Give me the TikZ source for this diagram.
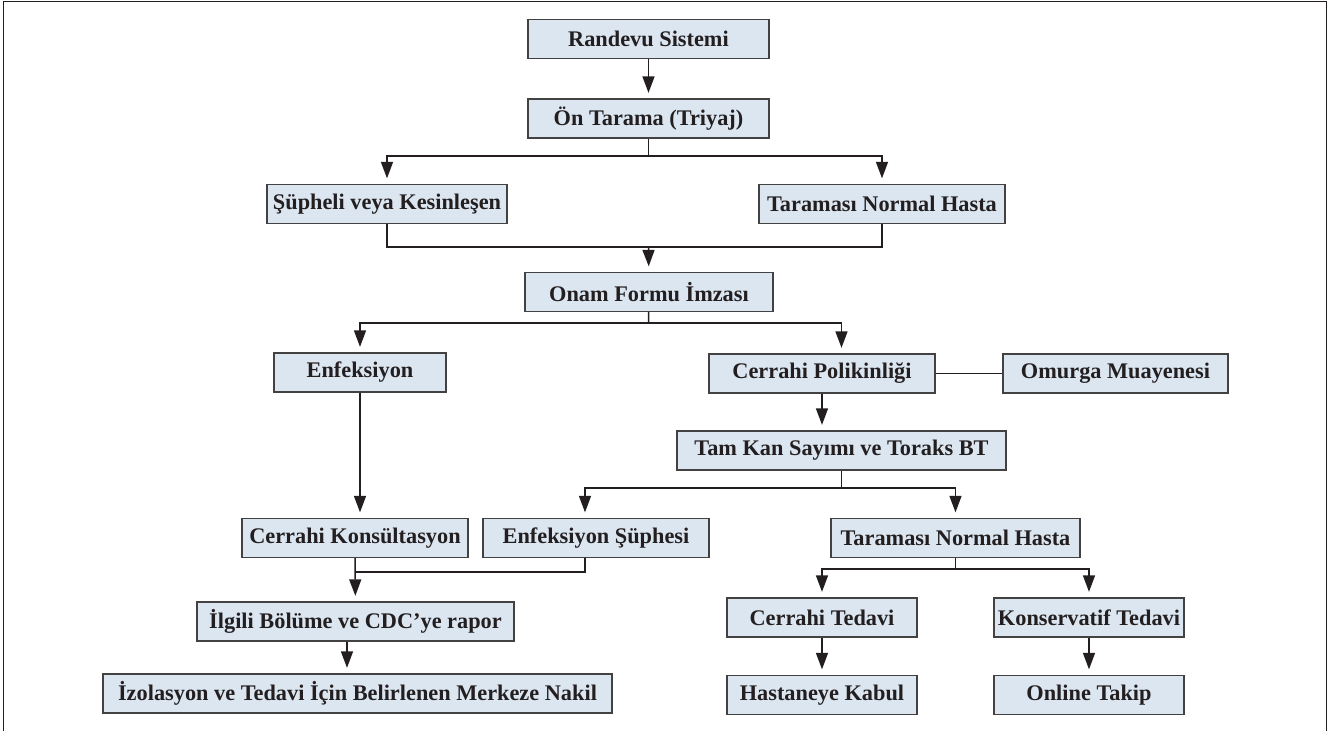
\documentclass[tikz,border=0pt]{standalone}
\usepackage{fontspec}
\setmainfont{Liberation Serif}
\usetikzlibrary{arrows.meta}
\definecolor{boxfill}{HTML}{DCE6F1}
\definecolor{ink}{HTML}{231F20}
\tikzset{
  box/.style={draw=ink!85, fill=boxfill, line width=0.75pt, inner sep=0pt, minimum height=0.78cm, text=ink, font=\bfseries\fontsize{12.7}{14}\selectfont},
  bw/.style={minimum width=#1*0.02cm},
  arr/.style={-{Triangle[length=0.33cm,width=0.24cm]}, shorten >=0.11cm},
}
\begin{document}
\begin{tikzpicture}[x=0.02cm, y=-0.02cm, color=ink, line width=0.85pt]
  \useasboundingbox (0,0) rectangle (1330,731);
  \draw[line width=1pt] (3.5,731) -- (3.5,1.5) -- (1326.5,1.5) -- (1326.5,731);

  \node[box, bw=241] (rand) at (648.5,39) {Randevu Sistemi};
  \node[box, bw=241] (onTar) at (648.5,118.5) {Ön Tarama (Triyaj)};
  \node[box, bw=240] (supheli) at (387,204) {Şüpheli veya Kesinleşen};
  \node[box, bw=246] (tarTop) at (882,204) {Taraması Normal Hasta};
  \node[box, bw=248] (onam) at (649,292) {Onam Formu İmzası};
  \node[box, bw=172] (enf) at (360,372.5) {Enfeksiyon};
  \node[box, bw=226] (cerPol) at (822,373.5) {Cerrahi Polikinliği};
  \node[box, bw=225] (omurga) at (1115.5,373.5) {Omurga Muayenesi};
  \node[box, bw=329] (tamKan) at (841.5,450.5) {Tam Kan Sayımı ve Toraks BT};
  \node[box, bw=226] (cerKons) at (355,538) {Cerrahi Konsültasyon};
  \node[box, bw=226] (enfSup) at (596,538) {Enfeksiyon Şüphesi};
  \node[box, bw=249] (tarBot) at (955.5,538) {Taraması Normal Hasta};
  \node[box, bw=317] (ilgili) at (355.5,621.5) {İlgili Bölüme ve CDC’ye rapor};
  \node[box, bw=509] (izol) at (357.5,693.5) {İzolasyon ve Tedavi İçin Belirlenen Merkeze Nakil};
  \node[box, bw=190] (cerTed) at (822,617.5) {Cerrahi Tedavi};
  \node[box, bw=190] (konserv) at (1089,617.5) {Konservatif Tedavi};
  \node[box, bw=190] (hastane) at (822,695) {Hastaneye Kabul};
  \node[box, bw=190] (online) at (1089,695) {Online Takip};

  \coordinate (b1) at (648.5,156);
  \coordinate (m1) at (648.5,247);
  \coordinate (b2) at (648.5,323);
  \coordinate (b3) at (841.5,488);
  \coordinate (b3L) at (585,488);
  \coordinate (m2) at (355,572);
  \coordinate (b4) at (955.5,569);

  \draw[arr] (rand) -- (onTar);
  \draw (onTar) -- (b1);
  \draw[arr] (b1) -| (supheli.north);
  \draw[arr] (b1) -| (tarTop.north);
  \draw (supheli) |- (m1) -| (tarTop);
  \draw[arr] (m1) -- (onam);
  \draw (onam) -- (b2);
  \draw[arr] (b2) -| (enf.north);
  \draw[arr] (b2) -| (cerPol.north -| tamKan.north);
  \draw (cerPol) -- (omurga);
  \draw[arr] (cerPol) -- (cerPol.south |- tamKan.north);
  \draw[arr] (enf) -- (enf.south |- cerKons.north);
  \draw (tamKan) -- (b3);
  \draw[arr] (b3) -- (b3L) -- (b3L |- enfSup.north);
  \draw[arr] (b3) -| (tarBot.north);
  \draw (b3L |- enfSup.south) |- (m2);
  \draw[arr] (cerKons) -- (ilgili);
  \draw[arr] ([xshift=-0.17cm]ilgili.south) -- ([xshift=-0.17cm]ilgili.south |- izol.north);
  \draw (tarBot) -- (b4);
  \draw[arr] (b4) -| (cerTed.north);
  \draw[arr] (b4) -| (konserv.north);
  \draw[arr] (cerTed) -- (hastane);
  \draw[arr] (konserv) -- (online);
\end{tikzpicture}
\end{document}
